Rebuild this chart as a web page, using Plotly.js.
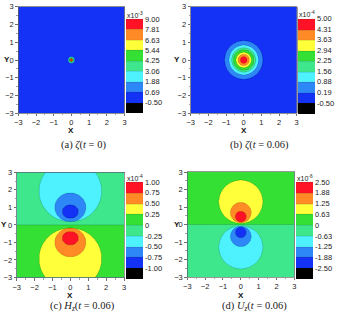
<!DOCTYPE html>
<html><head><meta charset="utf-8">
<script src="https://cdn.plot.ly/plotly-3.0.1.min.js"></script>
<style>html,body{margin:0;padding:0;background:#fff}#chart{width:340px;height:314px}</style>
</head><body><div id="chart"></div>
<script>
// ---------- DATA ----------
// Band colours from the lowest band (below the first level) to the highest
const bandColors = ['#000000','#1432f5','#2d87f7','#4ef2ff','#3ee68c','#34e034','#ffff3a','#ff8a26','#ff1226'];

// (a) zeta(t=0)  x10^-3
const aLevels = [-0.50, 0.6875, 1.875, 3.0625, 4.25, 5.4375, 6.625, 7.8125, 9.00];
const aLabels = ['-0.50','0.69','1.88','3.06','4.25','5.44','6.63','7.81','9.00'];
const aExponent = '-3';
const aBgUpper = 1, aBgLower = 1;             // band index of the background
const aBand = [2, 3, 4, 5, 6, 7, 8];          // band inside each contour ring
const aCx = [0, 0, 0, 0, 0, 0, 0];
const aCy = [0, 0, 0, 0, 0, 0, 0];
const aRx = [0.21, 0.17, 0.14, 0.11, 0.09, 0.07, 0.05];
const aRy = [0.21, 0.17, 0.14, 0.11, 0.09, 0.07, 0.05];

// (b) zeta(t=0.06)  x10^-4
const bLevels = [-0.50, 0.1875, 0.875, 1.5625, 2.25, 2.9375, 3.625, 4.3125, 5.00];
const bLabels = ['-0.50','0.19','0.88','1.56','2.25','2.94','3.63','4.31','5.00'];
const bExponent = '-4';
const bBgUpper = 1, bBgLower = 1;
const bBand = [2, 3, 4, 5, 6, 7, 8];
const bCx = [0, 0, 0, 0, 0, 0, 0];
const bCy = [0, 0, 0, 0, 0, 0, 0];
const bRx = [1.08, 0.83, 0.68, 0.57, 0.43, 0.32, 0.19];
const bRy = [1.08, 0.83, 0.68, 0.57, 0.43, 0.32, 0.19];

// (c) H_z(t=0.06)  x10^-4
const cLevels = [-1.00, -0.75, -0.50, -0.25, 0, 0.25, 0.50, 0.75, 1.00];
const cLabels = ['-1.00','-0.75','-0.50','-0.25','0','0.25','0.50','0.75','1.00'];
const cExponent = '-4';
const cBgUpper = 4, cBgLower = 5;
const cBand = [3, 2, 1, 6, 7, 8];
const cCx = [0, 0, 0, 0, 0, 0];
const cCy = [1.93, 1.00, 0.76, -1.93, -1.00, -0.76];
const cRx = [1.75, 0.87, 0.45, 1.75, 0.87, 0.45];
const cRy = [1.75, 0.82, 0.38, 1.75, 0.82, 0.38];

// (d) U_z(t=0.06)  x10^-6
const dLevels = [-2.50, -1.875, -1.25, -0.625, 0, 0.625, 1.25, 1.875, 2.50];
const dLabels = ['-2.50','-1.88','-1.25','-0.63','0','0.63','1.25','1.88','2.50'];
const dExponent = '-6';
const dBgUpper = 5, dBgLower = 4;
const dBand = [6, 7, 8, 3, 2, 1];
const dCx = [0, 0, 0, 0, 0, 0];
const dCy = [1.30, 0.68, 0.45, -1.30, -0.68, -0.45];
const dRx = [1.23, 0.58, 0.30, 1.23, 0.58, 0.30];
const dRy = [1.23, 0.58, 0.30, 1.23, 0.58, 0.30];

const captions = ['(a) <i>ζ</i>(<i>t</i> = 0)', '(b) <i>ζ</i>(<i>t</i> = 0.06)',
                  '(c) <i>H<sub>z</sub></i>(<i>t</i> = 0.06)', '(d) <i>U<sub>z</sub></i>(<i>t</i> = 0.06)'];

// ---------- BUILD ----------
const W = 340, H = 314;
const PX = px => px / W;
const PY = py => 1 - py / H;

// sampling grid (finer near the centre)
const grid = [];
for (let i = 0; i < 108; i++) grid.push(-3 + i * 0.025);
for (let i = 0; i < 120; i++) grid.push(-0.3 + i * 0.005);
for (let i = 0; i <= 108; i++) grid.push(0.3 + i * 0.025);

function buildField(levels, bgUp, bgLow, band, cx, cy, rx, ry) {
  const step = levels[1] - levels[0];
  const mid = b => levels[0] + (b - 0.5) * step;
  return grid.map(y => grid.map(x => {
    let b = y >= 0 ? bgUp : bgLow;
    for (let k = 0; k < band.length; k++) {
      const dx = (x - cx[k]) / rx[k], dy = (y - cy[k]) / ry[k];
      if (dx * dx + dy * dy <= 1) b = band[k];
    }
    return mid(b);
  }));
}

function stepScale(colors) {
  const n = colors.length - 1;
  const s = [[0, colors[0]], [0.01, colors[0]]];
  for (let b = 1; b <= n; b++) {
    s.push([b === 1 ? 0.01 : (b - 1) / n, colors[b]]);
    s.push([b / n, colors[b]]);
  }
  return s;
}

const panels = [
  {lv:aLevels, lb:aLabels, ex:aExponent, f:[aLevels,aBgUpper,aBgLower,aBand,aCx,aCy,aRx,aRy],
   plot:[18.3,124.5,6.7,113.3], bar:[126,19,94.3], yt:[7,60], xt:[71,130.5], cap:[83,145]},
  {lv:bLevels, lb:bLabels, ex:bExponent, f:[bLevels,bBgUpper,bBgLower,bBand,bCx,bCy,bRx,bRy],
   plot:[190.7,296.7,6.7,113.3], bar:[297.7,18.5,94.8], yt:[176.7,60], xt:[244,130.5], cap:[259,145]},
  {lv:cLevels, lb:cLabels, ex:cExponent, f:[cLevels,cBgUpper,cBgLower,cBand,cCx,cCy,cRx,cRy],
   plot:[16.7,124,172.3,277.5], bar:[125.5,182,97], yt:[3.5,224.5], xt:[70,295.8], cap:[82,306.5]},
  {lv:dLevels, lb:dLabels, ex:dExponent, f:[dLevels,dBgUpper,dBgLower,dBand,dCx,dCy,dRx,dRy],
   plot:[187.3,294.3,172,277], bar:[296,182,97], yt:[176.7,224.5], xt:[241,295.3], cap:[254,306.5]}
];

const FONT = 'Liberation Sans, Arial, sans-serif';
const SERIF = '"Liberation Serif", "Times New Roman", serif';
const data = [];
const layout = {width: W, height: H, margin: {l:0, r:0, t:0, b:0}, showlegend: false,
  paper_bgcolor: '#fff', plot_bgcolor: '#fff', annotations: []};

panels.forEach((p, i) => {
  const s = i ? String(i + 1) : '';
  const step = p.lv[1] - p.lv[0];
  const L0 = p.lv[0], L8 = p.lv[p.lv.length - 1];
  data.push({
    type: 'contour', x: grid, y: grid, z: buildField(...p.f),
    xaxis: 'x' + s, yaxis: 'y' + s,
    autocontour: false,
    contours: {start: L0, end: L8, size: step, coloring: 'fill', showlines: true},
    line: {width: 0.5, color: 'rgba(30,30,30,0.3)', smoothing: 0},
    colorscale: stepScale(bandColors), zmin: L0 - step, zmax: L8,
    hoverinfo: 'skip',
    colorbar: {
      x: PX(p.bar[0]), xanchor: 'left', y: PY(p.bar[1]), yanchor: 'top',
      len: p.bar[2], lenmode: 'pixels', thickness: 17, thicknessmode: 'pixels',
      xpad: 0, ypad: 0, outlinewidth: 0,
      tickmode: 'array', tickvals: p.lv, ticktext: p.lb, ticks: '', ticklen: 0,
      tickfont: {family: FONT, size: 7.5, color: '#222'}
    }
  });
  const common = {range: [-3, 3], dtick: 1, tick0: 0, ticks: 'outside', ticklen: 2.5,
    tickwidth: 0.7, tickcolor: '#333', tickfont: {family: FONT, size: 7.5, color: '#222'},
    showgrid: false, zeroline: false, showline: true, linecolor: '#555', linewidth: 0.6,
    mirror: true, fixedrange: true,
    minor: {ticks: 'outside', ticklen: 1.5, dtick: 0.5, tickcolor: '#444', tickwidth: 0.5}};
  layout['xaxis' + s] = Object.assign({}, common,
    {domain: [PX(p.plot[0]), PX(p.plot[1])], anchor: 'y' + s});
  layout['yaxis' + s] = Object.assign({}, common,
    {domain: [PY(p.plot[3]), PY(p.plot[2])], anchor: 'x' + s});
  const ann = (x, y, text, font, xanchor) => layout.annotations.push({
    xref: 'paper', yref: 'paper', x: PX(x), y: PY(y), text, showarrow: false,
    xanchor: xanchor || 'center', yanchor: 'middle', font});
  ann(p.yt[0], p.yt[1], 'Y', {family: FONT, size: 8, color: '#111', weight: 'bold'});
  ann(p.xt[0], p.xt[1], 'X', {family: FONT, size: 8, color: '#111', weight: 'bold'});
  ann(p.bar[0] - 1, p.bar[1] - 4.5, 'x10<sup>' + p.ex + '</sup>', {family: FONT, size: 7, color: '#222'}, 'left');
  ann(p.cap[0], p.cap[1], captions[i], {family: SERIF, size: 10.5, color: '#222'});
});

Plotly.newPlot('chart', data, layout, {staticPlot: true, displayModeBar: false});
</script>
</body></html>
